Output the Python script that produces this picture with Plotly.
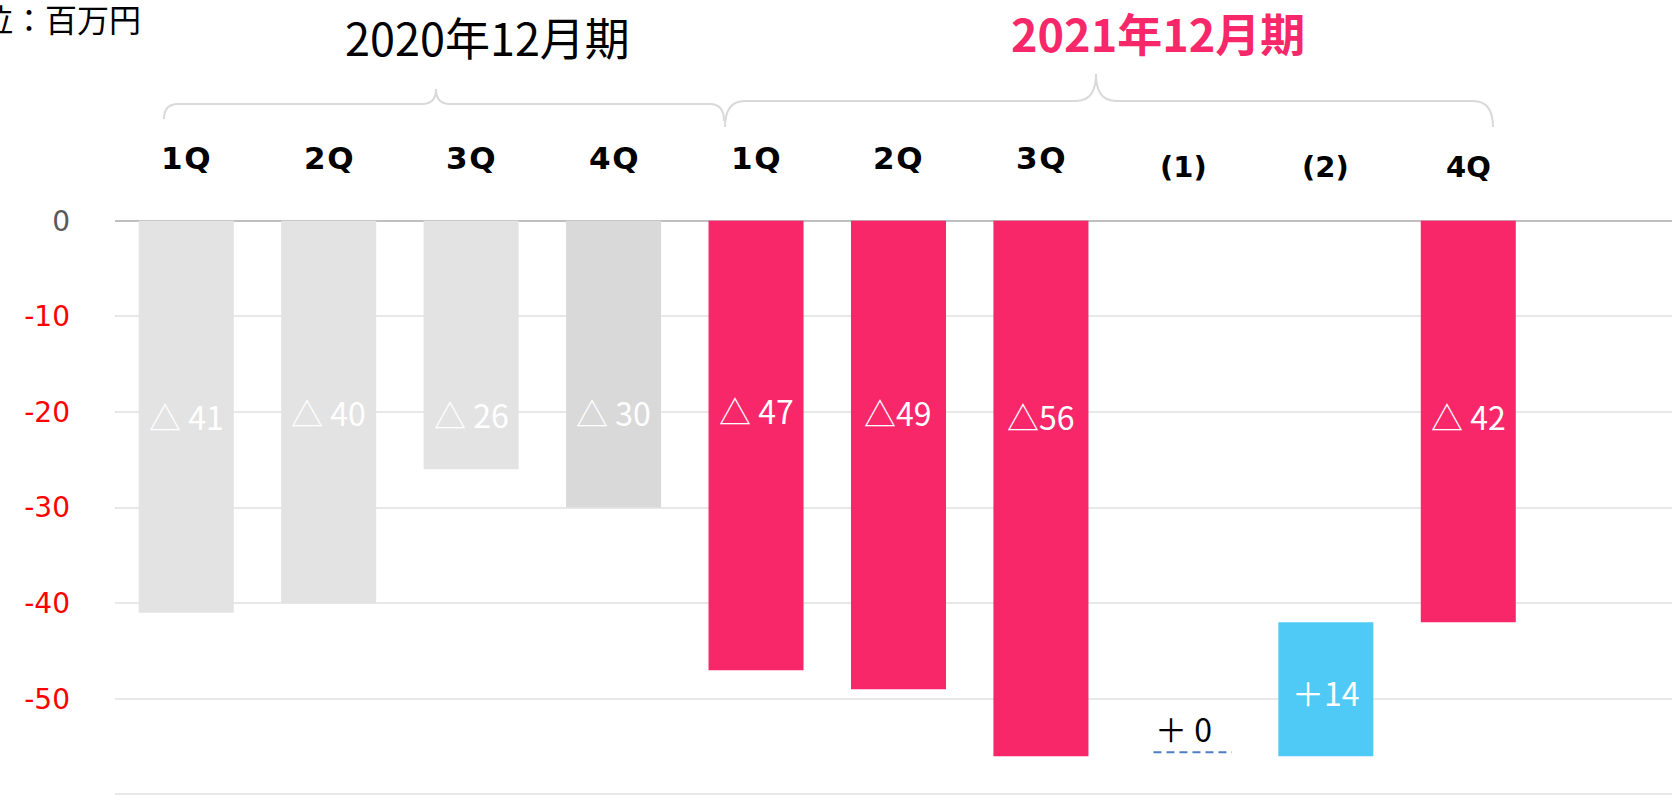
import plotly.graph_objects as go

# ---- data ----
quarter_labels = ["1Q", "2Q", "3Q", "4Q", "1Q", "2Q", "3Q", "(1)", "(2)", "4Q"]
period_of_bar = ["2020", "2020", "2020", "2020", "2021", "2021", "2021", "2021", "2021", "2021"]
values = [-41, -40, -26, -30, -47, -49, -56, 0, 14, -42]
bases = [0, 0, 0, 0, 0, 0, 0, -56, -56, 0]
value_labels = ["△ 41", "△ 40", "△ 26", "△ 30", "△ 47", "△49", "△56", "＋ 0", "＋14", "△ 42"]
period_titles = ["2020年12月期", "2021年12月期"]
unit_label = "単位：百万円"
y_tickvals = [0, -10, -20, -30, -40, -50, -60]

# ---- style ----
W, H = 1672, 804
ML, MR, MT, MB = 115, 0, 216, 0
GRAY = "#E3E3E3"
GRAY2 = "#D9D9D9"
PINK = "#F7276A"
BLUE = "#4FC9F5"
colors = [GRAY, GRAY, GRAY, GRAY2, PINK, PINK, PINK, PINK, BLUE, PINK]

PW = W - ML - MR
PH = H - MT - MB


def px_x(px):
    return (px - ML) / PW


def px_y(py):
    return (H - MB - py) / PH


x_idx = list(range(len(values)))

fig = go.Figure()
fig.add_trace(go.Bar(
    x=x_idx, y=values, base=bases,
    marker=dict(color=colors, line=dict(width=0)),
    width=0.667, hoverinfo="skip", showlegend=False,
))

annotations = []
# value labels
label_dy = [-0.4, 0.0, -0.2, 0.0, 0.2, 0.0, -0.4, 0.0, 0.0, -0.4]
for i, (v, b, t) in enumerate(zip(values, bases, value_labels)):
    if v == 0:
        yv = b + 2.9
        col = "#000000"
    elif b != 0:
        yv = b + v / 2 - 0.3
        col = "#FFFFFF"
    else:
        yv = -20.0 + label_dy[i]
        col = "#FFFFFF"
    annotations.append(dict(
        x=i, y=yv, xref="x", yref="y", text=t, showarrow=False,
        font=dict(family="Noto Sans CJK JP", size=32, color=col),
        xanchor="center", yanchor="middle",
    ))

# zero-change marker (dashed line) for the "(1)" step
shapes = []
for i, (v, b) in enumerate(zip(values, bases)):
    if v == 0:
        shapes.append(dict(
            type="line", xref="x", yref="y", x0=i - 0.21, x1=i + 0.34,
            y0=b + 0.4, y1=b + 0.4,
            line=dict(color="#4F7EC4", width=2, dash="8px,5px"),
        ))

# category labels above plot
GAP = "<span style='font-size:5px'> </span>"
for i, (q, p) in enumerate(zip(quarter_labels, period_of_bar)):
    if q.startswith("(") or (p == "2021" and i == len(quarter_labels) - 1):
        py, txt, sz = 167, q, 29
    else:
        py, txt, sz = 158, GAP.join(q), 31
    annotations.append(dict(
        x=i, y=px_y(py), xref="x", yref="paper", text=f"<b>{txt}</b>", showarrow=False,
        font=dict(family="DejaVu Sans", size=sz, color="#000000"),
        xanchor="center", yanchor="middle",
    ))

# period titles
annotations.append(dict(
    x=px_x(487), y=px_y(36), xref="paper", yref="paper", text=period_titles[0],
    showarrow=False, font=dict(family="Noto Sans CJK JP", size=45, color="#000000"),
    xanchor="center", yanchor="middle",
))
annotations.append(dict(
    x=px_x(1158), y=px_y(32), xref="paper", yref="paper", text=f"<b>{period_titles[1]}</b>",
    showarrow=False, font=dict(family="Noto Sans CJK JP", size=45, color=PINK),
    xanchor="center", yanchor="middle",
))
# unit label (clipped at left in the reference)
annotations.append(dict(
    x=px_x(143), y=px_y(18), xref="paper", yref="paper", text=unit_label,
    showarrow=False, font=dict(family="Noto Sans CJK JP", size=32, color="#000000"),
    xanchor="right", yanchor="middle",
))


def brace_path(x0, xp, x1, yh, yp, ye0, ye1, r):
    pts = [
        f"M {px_x(x0)},{px_y(ye0)}",
        f"Q {px_x(x0)},{px_y(yh)} {px_x(x0 + r)},{px_y(yh)}",
        f"L {px_x(xp - r)},{px_y(yh)}",
        f"Q {px_x(xp)},{px_y(yh)} {px_x(xp)},{px_y(yp)}",
        f"Q {px_x(xp)},{px_y(yh)} {px_x(xp + r)},{px_y(yh)}",
        f"L {px_x(x1 - r)},{px_y(yh)}",
        f"Q {px_x(x1)},{px_y(yh)} {px_x(x1)},{px_y(ye1)}",
    ]
    return " ".join(pts)


shapes.append(dict(type="path", xref="paper", yref="paper",
                   path=brace_path(164, 436, 724, 104, 89, 119, 121, 14),
                   line=dict(color="#D9D9D9", width=2)))
shapes.append(dict(type="path", xref="paper", yref="paper",
                   path=brace_path(725, 1096, 1493, 101, 74, 127, 127, 20),
                   line=dict(color="#D9D9D9", width=2)))

ticktext = []
for v in y_tickvals:
    c = "#595959" if v == 0 else "#FF0000"
    ticktext.append(f'<span style="color:{c}">{v}</span>')

fig.update_layout(
    width=W, height=H,
    margin=dict(l=ML, r=MR, t=MT, b=MB, pad=0),
    paper_bgcolor="white", plot_bgcolor="white",
    bargap=0.333,
    xaxis=dict(range=[-0.5, 10.43], showticklabels=False, showgrid=False,
               zeroline=False, showline=False, fixedrange=True),
    yaxis=dict(range=[-61, 0.5], tickvals=y_tickvals, ticktext=ticktext,
               tickfont=dict(family="DejaVu Sans", size=28, color="#FF0000"),
               showgrid=True, gridcolor="#E8E8E8", gridwidth=2,
               zeroline=True, zerolinecolor="#BFBFBF", zerolinewidth=2,
               ticks="", ticklabelstandoff=44, showline=False, fixedrange=True),
    annotations=annotations,
    shapes=shapes,
    showlegend=False,
)

fig.write_html("out.html", config={"displayModeBar": False},
               post_script="document.body.style.margin='0';")
